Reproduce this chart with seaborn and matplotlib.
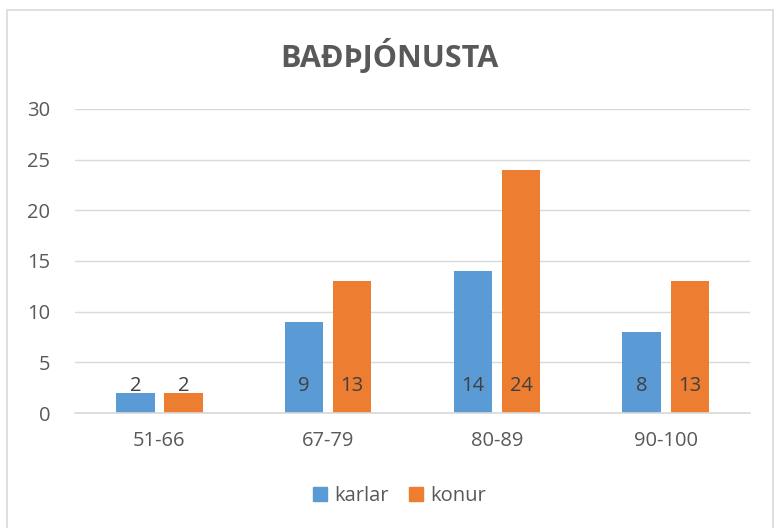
import matplotlib
matplotlib.use("Agg")
import matplotlib.pyplot as plt
import matplotlib.patches as mpatches
import pandas as pd
import seaborn as sns

categories = ["51-66", "67-79", "80-89", "90-100"]
karlar = [2, 9, 14, 8]
konur = [2, 13, 24, 13]
series_names = ["karlar", "konur"]
colors = ["#5B9BD5", "#ED7D31"]
title = "BAÐÞJÓNUSTA"

df = pd.DataFrame({
    "flokkur": categories * 2,
    "fjoldi": karlar + konur,
    "kyn": [series_names[0]] * len(categories) + [series_names[1]] * len(categories),
})

sns.set_theme(style="white")
plt.rcParams["font.family"] = ["Open Sans", "DejaVu Sans"]
text_color = "#595959"

fig = plt.figure(figsize=(7.79, 5.28), dpi=100)
ax = fig.add_axes([0.0963, 0.2178, 0.8667, 0.5758])

sns.barplot(data=df, x="flokkur", y="fjoldi", hue="kyn", palette=colors,
            width=0.57, gap=0.2, ax=ax, saturation=1, legend=False, linewidth=0)

ax.set_ylim(0, 30)
ax.set_yticks(range(0, 31, 5))
ax.set_xlim(-0.5, len(categories) - 0.5)
ax.grid(axis="y", color="#D9D9D9", linewidth=1)
ax.set_axisbelow(True)
for side in ["top", "right", "left"]:
    ax.spines[side].set_visible(False)
ax.spines["bottom"].set_color("#D9D9D9")
ax.spines["bottom"].set_linewidth(1.2)
ax.tick_params(axis="both", length=0, labelsize=14.5, colors=text_color)
ax.tick_params(axis="y", pad=18)
ax.tick_params(axis="x", pad=13)
ax.set_xlabel("")
ax.set_ylabel("")

# value labels near the base of each bar
for container in ax.containers:
    for patch, val in zip(container.patches, container.datavalues):
        ax.annotate(f"{int(val)}", xy=(patch.get_x() + patch.get_width() / 2, 0),
                    xytext=(0, 19.5), textcoords="offset points",
                    ha="center", va="center", fontsize=14.5, color="#404040")

fig.text(0.5, 0.893, title, ha="center", va="center", fontsize=22,
         fontweight="bold", color=text_color)

handles = [mpatches.Patch(color=c, label=n) for c, n in zip(colors, series_names)]
fig.legend(handles=handles, loc="center", bbox_to_anchor=(0.513, 0.06), ncol=2,
           frameon=False, fontsize=14.5, handlelength=0.7, handleheight=0.7,
           handletextpad=0.35, columnspacing=1.0, labelcolor=text_color)

fig.patches.append(mpatches.Rectangle((7 / 779, -0.01), 766 / 779, 1 - 10 / 528 + 0.01,
                                      transform=fig.transFigure, fill=False,
                                      edgecolor="#D9D9D9", linewidth=1.2))

fig.savefig("out.png", dpi=100)
